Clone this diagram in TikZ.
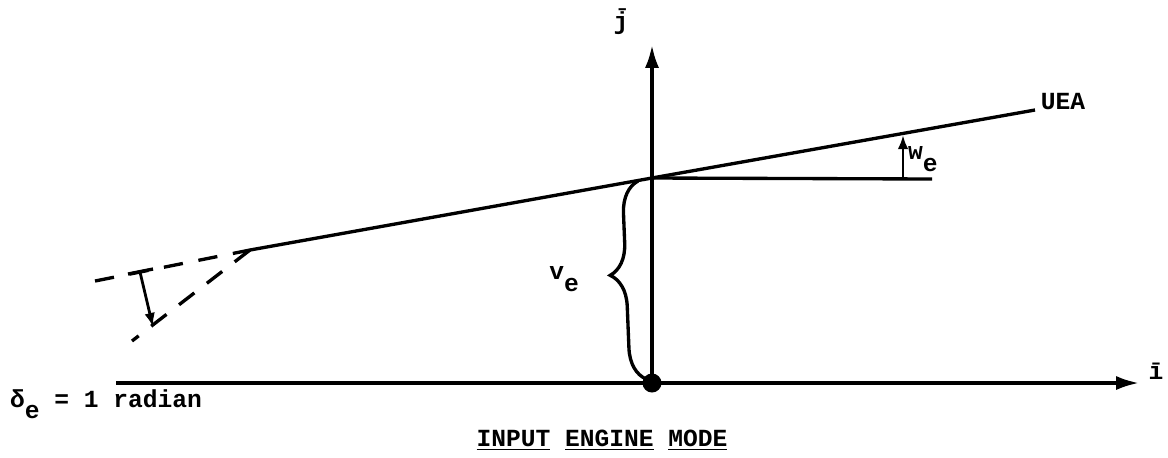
\documentclass[tikz,border=0pt]{standalone}
\usepackage{fontspec}
\setmonofont{Liberation Mono}
\usetikzlibrary{arrows.meta,decorations.pathreplacing}
\newcommand{\lowsub}[1]{\raisebox{-0.9ex}{#1}}

\begin{document}
\begin{tikzpicture}[
  x=0.02cm, y=-0.02cm,
  font=\ttfamily\bfseries\fontsize{14}{16}\selectfont,
  axis/.style={line width=1.9pt, -{Latex[length=13pt,width=8pt]}},
  lin/.style={line width=1.9pt},
  dashline/.style={line width=1.9pt, dash pattern=on 11pt off 9pt},
  tiparrow/.style={line width=1.6pt, -{Latex[length=8pt,width=6pt]}},
  lbl/.style={inner sep=1pt}
]
\useasboundingbox (0,0) rectangle (1168,457);
% axes
\coordinate (O) at (652,383);
\coordinate (ileft) at (116,383);
\coordinate (itip) at (1139,383);
\coordinate (jtip) at (652,45);
\draw[axis] (ileft) -- (itip);
\draw[axis] (O) -- (jtip);
\node[lbl] (ilab) at (1156,371) {ī};
\node[lbl] (jlab) at (621,22) {\=j};
% unit engine axis
\coordinate (kink) at (250,250);
\coordinate (P) at (652,178);
\coordinate (ueaend) at (1035,110);
\coordinate (href) at (932,179);
\draw[lin] (kink) -- (P) -- (ueaend);
\draw[lin] (P) -- (href);
\node[lbl] (uea) at (1063,102) {UEA};
% w_e
\coordinate (webase) at (903,179);
\coordinate (wetip) at (903,135);
\draw[tiparrow] (webase) -- (wetip);
\node[lbl, anchor=west] (welab) at (906,159) {w\lowsub{e}};
% v_e
\draw[lin, decorate, decoration={brace, amplitude=18pt, aspect=0.53}] (646,379) -- (638,181);
\node[lbl] (velab) at (564,279) {v\lowsub{e}};
% deflected axis
\coordinate (dstart) at (95,281);
\coordinate (dend) at (132,341);
\draw[dashline] (dstart) -- (kink);
\draw[dashline] (kink) -- (dend);
\coordinate (barl) at (128,274);
\coordinate (barr) at (153,269);
\coordinate (dfrom) at (140,272);
\coordinate (dto) at (153,327);
\draw[lin] (barl) -- (barr);
\draw[tiparrow] (dfrom) -- (dto);
% origin
\node[circle, fill, inner sep=0, minimum size=0.38cm] (Odot) at (O) {};
% labels
\node[lbl, anchor=base west] (deltalab) at (8,407) {δ\lowsub{e} = 1 radian};
\node[lbl] (title) at (602,440) {\underline{INPUT} \underline{ENGINE} \underline{MODE}};
\end{tikzpicture}
\end{document}
